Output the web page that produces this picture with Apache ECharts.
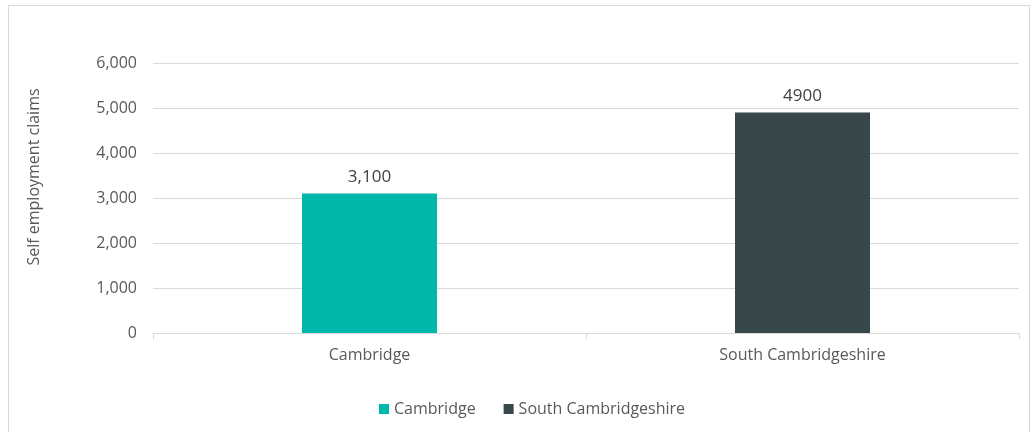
<!DOCTYPE html>
<html>
<head>
<meta charset="utf-8">
<script src="https://cdn.jsdelivr.net/npm/echarts@6/dist/echarts.min.js"></script>
<style>
  html, body { margin: 0; padding: 0; background: #fff; }
  #main { position: absolute; left: 0; top: 0; width: 1035px; height: 432px; }
  .frame { position: absolute; left: 8px; top: 5px; width: 1022px; height: 440px; border: 1px solid #d9d9d9; box-sizing: border-box; }
</style>
</head>
<body>
<div class="frame"></div>
<div id="main"></div>
<script>
    // data
    var categories = ['Cambridge', 'South Cambridgeshire'];
    var claims = [3100, 4900];
    var valueLabels = ['3,100', '4900'];
    var yTicks = { min: 0, max: 6000, interval: 1000 };
    var colors = ['#00b8a9', '#37474a'];

    var myChart = echarts.init(document.getElementById('main'));

    // one series per area so the legend shows both
    var series = categories.map(function (name, i) {
        var data = categories.map(function (c, j) { return j === i ? claims[j] : '-'; });
        return {
            name: name,
            type: 'bar',
            stack: 'all',
            barWidth: 135,
            data: data,
            itemStyle: { color: colors[i] },
            label: {
                show: true,
                position: 'top',
                distance: 8,
                color: '#404040',
                fontSize: 17,
                fontFamily: 'Open Sans',
                formatter: function (p) { return valueLabels[p.dataIndex]; }
            }
        };
    });

    var option = {
        animation: false,
        textStyle: { fontFamily: 'Open Sans' },
        legend: {
            data: categories,
            bottom: 10,
            left: 374,
            itemWidth: 10,
            itemHeight: 10,
            itemGap: 28,
            icon: 'rect',
            textStyle: { color: '#595959', fontSize: 16, fontFamily: 'Open Sans' }
        },
        grid: { left: 153, right: 16, top: 63, bottom: 99 },
        xAxis: {
            type: 'category',
            data: categories,
            axisLine: { lineStyle: { color: '#d9d9d9' } },
            axisTick: { show: true, length: 6, lineStyle: { color: '#d9d9d9' } },
            axisLabel: { color: '#595959', fontSize: 16, margin: 14 }
        },
        yAxis: {
            type: 'value',
            min: yTicks.min,
            max: yTicks.max,
            interval: yTicks.interval,
            name: 'Self employment claims',
            nameLocation: 'middle',
            nameGap: 111,
            nameTextStyle: { color: '#595959', fontSize: 16, padding: [0, 0, 0, 42] },
            axisLabel: {
                color: '#595959',
                fontSize: 16,
                margin: 16,
                formatter: function (v) { return v.toLocaleString('en-US'); }
            },
            splitLine: { lineStyle: { color: '#d9d9d9' } },
            axisLine: { show: false },
            axisTick: { show: false }
        },
        series: series
    };

    myChart.setOption(option);
</script>
</body>
</html>
